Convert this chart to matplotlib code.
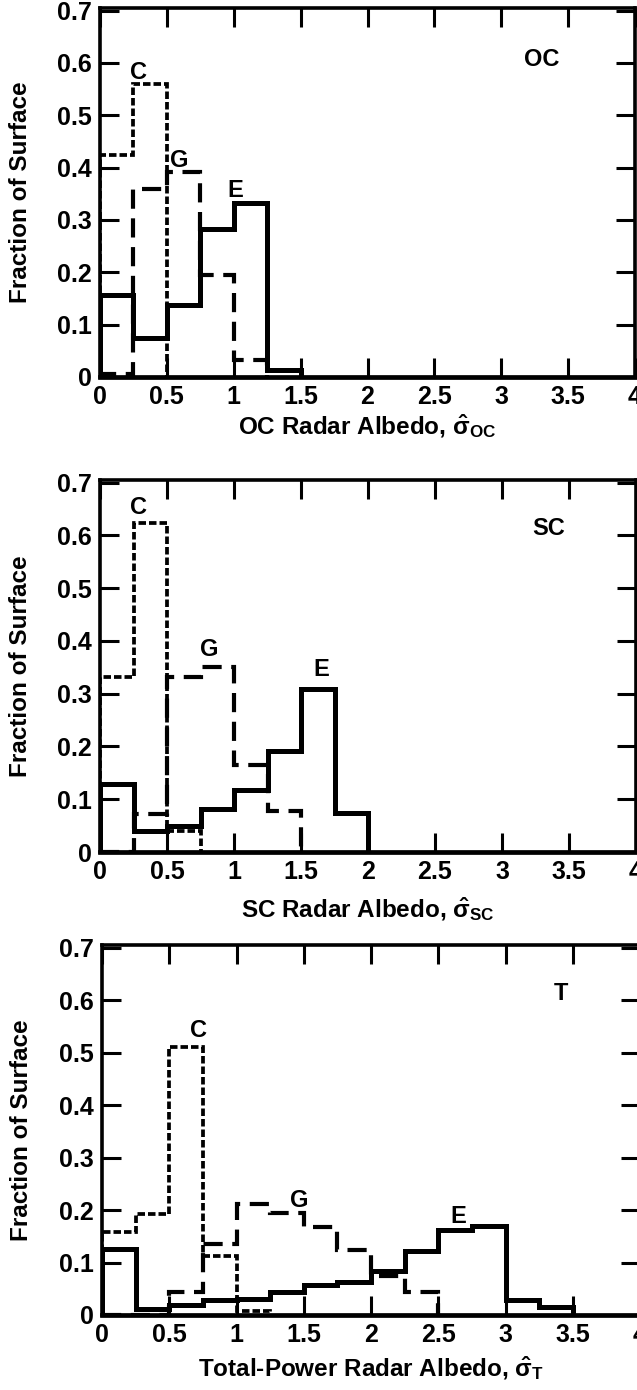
import numpy as np
import matplotlib
matplotlib.use("Agg")
import matplotlib.pyplot as plt

plt.rcParams['font.family'] = ['Liberation Sans', 'DejaVu Sans']
plt.rcParams['font.weight'] = 'bold'
plt.rcParams['mathtext.fontset'] = 'custom'
plt.rcParams['mathtext.rm'] = 'Liberation Sans:bold'
plt.rcParams['mathtext.it'] = 'Liberation Sans:bold'
plt.rcParams['mathtext.bf'] = 'Liberation Sans:bold'
plt.rcParams['mathtext.sf'] = 'Liberation Sans:bold'

bin_width = 0.25

# ---- Panel 1: OC ----
oc_E = [0.156, 0.074, 0.137, 0.282, 0.333, 0.013]
oc_C = [0.425, 0.559]
oc_G = [0.005, 0.360, 0.392, 0.194, 0.032]

# ---- Panel 2: SC ----
sc_E = [0.129, 0.040, 0.050, 0.081, 0.117, 0.191, 0.309, 0.074]
sc_C = [0.331, 0.624, 0.040]
sc_G = [0.0, 0.072, 0.331, 0.350, 0.164, 0.078]

# ---- Panel 3: Total power ----
t_E = [0.125, 0.012, 0.019, 0.028, 0.031, 0.044, 0.057, 0.063, 0.084,
       0.121, 0.162, 0.170, 0.028, 0.016]
t_C = [0.158, 0.192, 0.510, 0.113, 0.008]
t_G = [0.0, 0.0, 0.044, 0.136, 0.211, 0.195, 0.168, 0.123, 0.074, 0.044]

x_ticks = [0, 0.5, 1, 1.5, 2, 2.5, 3, 3.5, 4]
x_ticklabels = ['0', '0.5', '1', '1.5', '2', '2.5', '3', '3.5', '4']
y_ticks = [0, 0.1, 0.2, 0.3, 0.4, 0.5, 0.6, 0.7]
y_ticklabels = ['0', '0.1', '0.2', '0.3', '0.4', '0.5', '0.6', '0.7']

panels = [
    dict(E=oc_E, C=oc_C, G=oc_G, tag='OC',
         xlabel=r'OC Radar Albedo, $\hat{\sigma}_{\mathrm{OC}}$',
         lab={'C': (0.285, 0.582), 'G': (0.59, 0.413), 'E': (1.01, 0.356),
              'OC': (3.30, 0.607)},
         box=(100, 8, 635, 377), xlab_y=-0.155),
    dict(E=sc_E, C=sc_C, G=sc_G, tag='SC',
         xlabel=r'SC Radar Albedo, $\hat{\sigma}_{\mathrm{SC}}$',
         lab={'C': (0.285, 0.653), 'G': (0.815, 0.383), 'E': (1.65, 0.345),
              'SC': (3.35, 0.614)},
         box=(100, 480, 636, 852), xlab_y=-0.176),
    dict(E=t_E, C=t_C, G=t_G, tag='T',
         xlabel=r'Total-Power Radar Albedo, $\hat{\sigma}_{\mathrm{T}}$',
         lab={'C': (0.72, 0.543), 'G': (1.47, 0.219), 'E': (2.65, 0.187),
              'T': (3.41, 0.613)},
         box=(102, 945, 640, 1315), xlab_y=-0.165),
]

W, H = 637, 1390
fig = plt.figure(figsize=(W / 100, H / 100), dpi=100)

for p in panels:
    l, t, r, b = p['box']
    ax = fig.add_axes([l / W, 1 - b / H, (r - l) / W, (b - t) / H])
    for key, lw, ls, z in [('G', 3.0, (0, (4.6, 2.3)), 3),
                           ('C', 2.7, (0, (2.0, 0.8)), 4),
                           ('E', 3.6, '-', 5)]:
        vals = p[key]
        edges = np.arange(len(vals) + 1) * bin_width
        sp = ax.stairs(vals, edges, baseline=0, fill=False, color='black',
                       linewidth=lw, zorder=z)
        sp.set_linestyle(ls)
        sp.set_joinstyle('miter')
        sp.set_capstyle('butt')
    for name, (x, y) in p['lab'].items():
        ax.text(x, y, name, ha='center', va='center', fontsize=17,
                fontweight='bold')
    ax.set_xlim(0, 4)
    ax.set_ylim(0, 0.705)
    ax.set_xticks(x_ticks)
    ax.set_xticklabels(x_ticklabels)
    ax.set_yticks(y_ticks)
    ax.set_yticklabels(y_ticklabels)
    ax.tick_params(direction='in', length=14, width=2.2, top=True, right=True,
                   labelsize=18, pad=6)
    for s in ax.spines.values():
        s.set_linewidth(2.6)
    ax.spines['bottom'].set_linewidth(3.4)
    ax.text(-0.149, 0.5, 'Fraction of Surface', transform=ax.transAxes,
            rotation=90, ha='center', va='center', fontsize=17.5,
            fontweight='bold')
    ax.text(0.5, p['xlab_y'], p['xlabel'], transform=ax.transAxes,
            ha='center', va='baseline', fontsize=17.5, fontweight='bold')

fig.savefig('out.png', dpi=100)
